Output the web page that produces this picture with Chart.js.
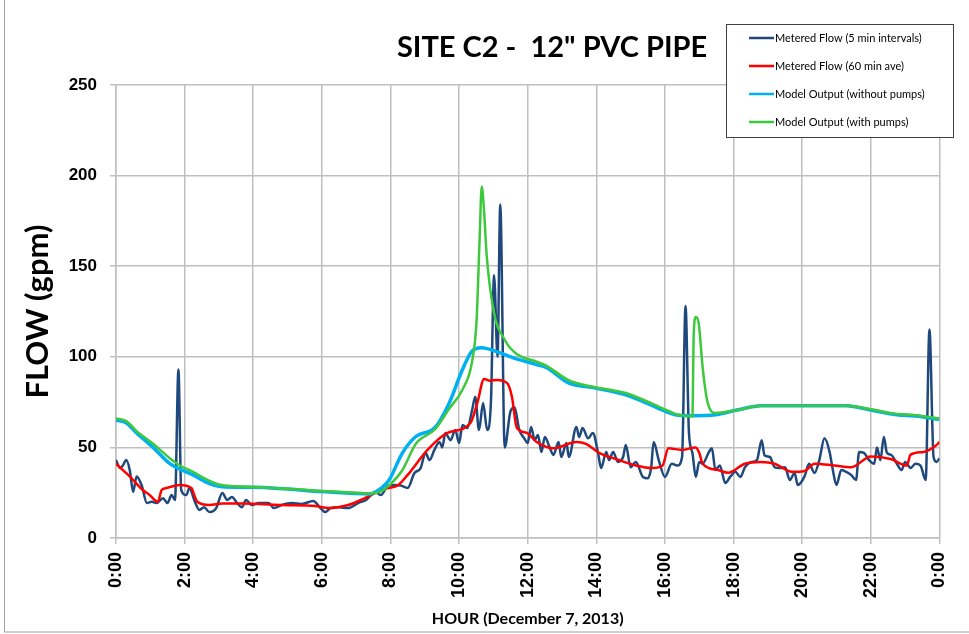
<!DOCTYPE html>
<html>
<head>
<meta charset="utf-8">
<title>Site C2 - 12" PVC Pipe</title>
<script src="https://cdn.jsdelivr.net/npm/chart.js@4.4.1/dist/chart.umd.min.js"></script>
<style>
  html, body { margin: 0; padding: 0; background: #fff; }
  #wrap { width: 969px; height: 634px; position: relative; }
</style>
</head>
<body>
<div id="wrap"><canvas id="flow-chart" width="969" height="634"></canvas></div>
<script>
/*global Chart*/

// Chart text
let chart_title   = 'SITE C2 -  12" PVC PIPE';
let x_axis_title  = 'HOUR (December 7, 2013)';
let y_axis_title  = 'FLOW (gpm)';
let series_labels = [
    'Metered Flow (5 min intervals)',
    'Metered Flow (60 min ave)',
    'Model Output (without pumps)',
    'Model Output (with pumps)'
];

// Metered flow, 5 min intervals (hour of day, gpm)
let flow5_hours  = [ 0, 0.12, 0.2, 0.3, 0.4, 0.5, 0.6, 0.75, 0.9, 1.04, 1.18, 1.37, 1.5, 1.62, 1.72, 1.82, 1.9, 2.05, 2.14, 2.28,
                     2.43, 2.57, 2.72, 2.92, 3.1, 3.24, 3.38, 3.53, 3.67, 3.79, 3.96, 4.16, 4.45, 4.6, 4.83, 5.12, 5.41, 5.75, 5.96, 6.1,
                     6.25, 6.48, 6.77, 7.06, 7.29, 7.55, 7.72, 7.92, 8.12, 8.3, 8.5, 8.7, 8.88, 9.02, 9.14, 9.28, 9.43, 9.51, 9.6, 9.75,
                     9.89, 10.0, 10.1, 10.24, 10.38, 10.47, 10.58, 10.7, 10.82, 10.93, 11.02, 11.12, 11.2, 11.33, 11.5, 11.62, 11.75, 11.9, 12.0, 12.1,
                     12.2, 12.3, 12.4, 12.5, 12.64, 12.75, 12.9, 12.98, 13.13, 13.2, 13.42, 13.5, 13.6, 13.76, 13.9, 14.05, 14.14, 14.29, 14.37, 14.49,
                     14.63, 14.78, 14.86, 15.0, 15.15, 15.36, 15.5, 15.6, 15.67, 15.82, 16.0, 16.2, 16.36, 16.5, 16.6, 16.7, 16.8, 16.9, 17.0, 17.1,
                     17.27, 17.37, 17.47, 17.6, 17.76, 17.9, 18.05, 18.2, 18.33, 18.53, 18.68, 18.82, 18.9, 19.06, 19.2, 19.35, 19.5, 19.64, 19.78, 19.87,
                     20.07, 20.2, 20.36, 20.5, 20.65, 20.8, 20.88, 21.0, 21.14, 21.28, 21.43, 21.57, 21.66, 21.8, 21.95, 22.1, 22.18, 22.28, 22.38, 22.47,
                     22.6, 22.76, 22.9, 23.0, 23.16, 23.3, 23.45, 23.6, 23.71, 23.83, 23.92, 24.0 ];
let flow5_values = [ 43, 38.6, 40, 43, 37.5, 25.4, 34, 29, 19.3, 20, 19.3, 22, 19.3, 23.7, 21, 93, 26.5, 23.7, 27.6, 21,
                     15.5, 17, 14.3, 16.5, 24.8, 21, 22.6, 19.3, 17, 21, 18.2, 19.3, 19.3, 16.5, 18.2, 19.3, 18.8, 20.4, 16.5, 14.3,
                     16.5, 17, 16.5, 19.3, 21, 25.4, 23.7, 28.7, 29.3, 29, 27.6, 35.9, 38.6, 47, 43, 48.6, 53, 50, 58, 54,
                     59.6, 52.4, 62.4, 60.7, 70.6, 78, 59.6, 74.5, 59.6, 76, 145, 100, 184, 50, 70, 72, 60, 55, 52.4, 61.3,
                     54, 56.8, 47.5, 55.7, 50, 45.8, 53, 44.7, 52.4, 44.7, 61.3, 55.7, 60.7, 55, 58, 47, 38.6, 47.5, 43, 47.5,
                     42, 44.7, 51.3, 39, 42, 33.7, 33, 39, 53, 43, 33.7, 41, 40, 44.7, 128, 58, 47, 33.7, 42, 41,
                     47, 49.5, 37.5, 40, 30.3, 33.7, 36.5, 33.7, 39, 42, 43, 54, 45.8, 44.7, 39, 38.6, 39, 32, 35.9, 29.3,
                     34, 41, 35.9, 43, 55, 47.5, 39, 29.3, 37.5, 36.5, 34.8, 32, 47.5, 47, 43, 41, 50, 43, 55.7, 47,
                     45.8, 41, 37.5, 42, 38.6, 41, 40, 32, 115, 44.7, 42, 44 ];

// Metered flow, 60 min average
let flow60_hours  = [ 0, 0.2, 0.4, 0.78, 0.98, 1.22, 1.33, 1.47, 1.85, 2.2, 2.28, 2.37, 2.72, 3.1, 3.67, 4.16, 4.83, 5.8, 6.19, 6.77,
                      7.14, 7.55, 7.92, 8.21, 8.5, 9.08, 9.66, 10.33, 10.53, 10.73, 10.9, 11.1, 11.4, 11.54, 11.68, 11.97, 12.26, 12.75, 13.42, 13.7,
                      14.08, 14.57, 15.15, 15.64, 15.93, 16.1, 16.5, 16.9, 17.0, 17.1, 17.55, 17.84, 18.33, 18.8, 19.2, 19.7, 20.07, 20.36, 20.94, 21.43,
                      22.0, 22.58, 23.05, 23.16, 23.54, 23.9, 24.0 ];
let flow60_values = [ 41, 37.5, 34, 26.5, 23.7, 20, 26.5, 27.6, 29.3, 27.6, 23.7, 20, 18.2, 19, 19, 18.8, 18.2, 17.7, 16.5, 18.2,
                      21, 24.8, 27.5, 29, 34.8, 48.6, 58, 63.5, 74.5, 87.8, 86.8, 87.2, 85.5, 78, 61, 58, 53, 49.5, 53, 52,
                      47, 43.6, 40, 38.6, 40, 49.5, 48.6, 50, 47, 41, 37.5, 36, 41, 42, 41, 36.5, 37, 41, 40, 39,
                      45, 43.6, 40, 46, 47.5, 51, 53 ];

// Model output without pumps
let model_hours   = [ 0, 0.3, 0.6, 1.08, 1.57, 1.86, 2.24, 2.73, 3.0, 3.5, 4.0, 5.0, 6.0, 7.0, 7.4, 7.76, 7.96, 8.35, 8.74, 9.3,
                      9.7, 10.1, 10.37, 10.66, 11.07, 11.65, 12.3, 12.55, 13.2, 13.9, 14.86, 15.64, 16.0, 16.3, 16.8, 17.47, 18.1, 18.8, 20.0, 21.3,
                      22.0, 22.76, 23.3, 24.0 ];
let model_values  = [ 65, 63.5, 58, 50, 41, 38, 34.8, 30, 28.5, 28, 28, 27, 25.6, 24.5, 24.3, 28, 32, 47, 56, 61,
                      74, 93, 103, 105, 103, 99, 95.5, 94, 85.5, 83, 79, 73, 70, 68, 67.5, 68, 70.6, 73, 73, 73,
                      70.6, 68, 67.3, 65.5 ];

// Model output with pumps
let pumps_hours   = [ 0, 0.3, 0.6, 1.08, 1.57, 1.86, 2.24, 2.73, 3.0, 3.5, 4.0, 5.0, 6.0, 7.0, 7.4, 7.76, 7.96, 8.35, 8.74, 9.3,
                      9.7, 10.1, 10.37, 10.51, 10.6, 10.66, 10.73, 10.8, 11.0, 11.34, 11.65, 12.3, 12.55, 13.2, 13.9, 14.86, 15.64, 16.0, 16.3, 16.8,
                      16.84, 16.9, 16.98, 17.1, 17.23, 17.47, 18.1, 18.8, 20.0, 21.3, 22.0, 22.76, 23.3, 24.0 ];
let pumps_values  = [ 66, 64.5, 59, 52, 44, 40, 36.5, 31.5, 29.5, 28.5, 28.2, 27.2, 26, 25, 24.5, 26, 29, 37.5, 52, 60,
                      71, 82, 96.5, 120, 166, 194, 180, 157, 126, 109, 102, 97, 95, 87, 83.5, 80, 74, 71, 68.5, 67,
                      113, 122, 119, 94, 76, 69, 70.6, 73, 73, 73, 71, 68.5, 67.8, 66 ];

let series_colors = [ '#1f497d', '#ff0000', '#00b0f0', '#3dc93d' ];

/**
 * Pair up hour and value arrays for a linear x scale
 */
function to_points( hours, values ) {
    return hours.map( function( h, i ) { return { x: h, y: values[ i ] }; } );
}

/**
 * Title and outer frame, Excel style
 */
const frame_plugin = {
    id: 'frame',
    beforeDraw: function( chart ) {
        let ctx = chart.ctx;
        ctx.save();
        ctx.fillStyle = '#ffffff';
        ctx.fillRect( 0, 0, chart.width, chart.height );
        ctx.strokeStyle = '#a0a0a0';
        ctx.lineWidth = 1;
        ctx.strokeRect( 4.5, -1, 970, 633 );
        ctx.restore();
    },
    afterDraw: function( chart ) {
        let ctx = chart.ctx;
        ctx.save();
        ctx.fillStyle = '#000000';
        ctx.font = 'bold 29px Lato';
        ctx.textAlign = 'center';
        ctx.textBaseline = 'middle';
        ctx.fillText( chart_title, 552, 48 );
        ctx.restore();
    }
};

/**
 * Boxed legend sitting over the top right corner
 */
const legend_plugin = {
    id: 'legendBox',
    afterDraw: function( chart ) {
        let ctx = chart.ctx;
        ctx.save();
        ctx.fillStyle = '#ffffff';
        ctx.fillRect( 726.5, 24.5, 227, 113 );
        ctx.strokeStyle = '#404040';
        ctx.lineWidth = 1;
        ctx.strokeRect( 726.5, 24.5, 227, 113 );

        ctx.font = '11px Lato';
        ctx.textBaseline = 'middle';
        ctx.textAlign = 'left';
        chart.data.datasets.forEach( function( ds, i ) {
            let y = 38 + i * 28;
            ctx.strokeStyle = ds.borderColor;
            ctx.lineWidth = 2.5;
            ctx.beginPath();
            ctx.moveTo( 749, y );
            ctx.lineTo( 774, y );
            ctx.stroke();
            ctx.fillStyle = '#000000';
            ctx.fillText( ds.label, 775, y );
        });
        ctx.restore();
    }
};

let tick_font  = { family: 'Liberation Sans, Arial, sans-serif', weight: 'bold', size: 17 };
let grid_color = '#bfbfbf';

new Chart( document.getElementById( 'flow-chart' ), {
    type: 'line',
    data: {
        datasets: [
            { label: series_labels[0], data: to_points( flow5_hours, flow5_values ),  borderColor: series_colors[0], borderWidth: 2.5, order: 3 },
            { label: series_labels[1], data: to_points( flow60_hours, flow60_values ), borderColor: series_colors[1], borderWidth: 2.5, order: 2 },
            { label: series_labels[2], data: to_points( model_hours, model_values ),  borderColor: series_colors[2], borderWidth: 3.5, order: 1 },
            { label: series_labels[3], data: to_points( pumps_hours, pumps_values ),  borderColor: series_colors[3], borderWidth: 2.5, order: 0 }
        ]
    },
    options: {
        responsive: false,
        devicePixelRatio: 1,
        animation: false,
        layout: { padding: { top: 85, right: 23, bottom: 0, left: 0 } },
        elements: {
            point: { radius: 0 },
            line:  { cubicInterpolationMode: 'monotone', fill: false }
        },
        plugins: {
            legend:  { display: false },
            title:   { display: false },
            tooltip: { enabled: false }
        },
        scales: {
            x: {
                type: 'linear',
                min: 0,
                max: 24,
                grid:   { color: grid_color, lineWidth: 1.5, tickLength: 6 },
                border: { color: grid_color, width: 1.5 },
                ticks: {
                    stepSize: 2,
                    autoSkip: false,
                    minRotation: 90,
                    maxRotation: 90,
                    padding: 8,
                    color: '#000000',
                    font: { family: 'Liberation Sans, Arial, sans-serif', weight: 'bold', size: 18 },
                    callback: function( value ) { return ( value % 24 ) + ':00'; }
                },
                title: {
                    display: true,
                    text: x_axis_title,
                    color: '#000000',
                    font: { family: 'Lato', weight: 'bold', size: 16 },
                    padding: { top: 0, bottom: 6 }
                },
                afterFit: function( scale ) { scale.height = 96; }
            },
            y: {
                min: 0,
                max: 250,
                grid:   { color: grid_color, lineWidth: 1.5, tickLength: 6 },
                border: { color: grid_color, width: 1.5 },
                ticks: {
                    stepSize: 50,
                    padding: 13,
                    color: '#000000',
                    font: tick_font
                },
                title: {
                    display: true,
                    text: y_axis_title,
                    color: '#000000',
                    font: { family: 'Lato', weight: 'bold', size: 31 },
                    padding: { top: 19, bottom: 0 }
                },
                afterFit: function( scale ) { scale.width = 116; }
            }
        }
    },
    plugins: [ frame_plugin, legend_plugin ]
});
</script>
</body>
</html>
